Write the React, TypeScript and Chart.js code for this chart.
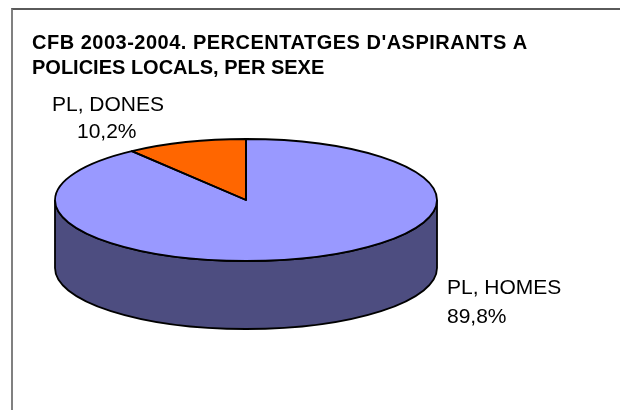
import React, { useEffect, useRef } from "react";
import { Chart, registerables } from "chart.js";

Chart.register(...registerables);

const categories = ["PL, HOMES", "PL, DONES"];
const percentages = [89.8, 10.2];
const titleLines = ["CFB 2003-2004. PERCENTATGES D'ASPIRANTS A", "POLICIES LOCALS, PER SEXE"];

const topColors = ["#9999FF", "#FF6600"];
const sideColors = ["#4D4D80", "#803300"];
const RY = 61; // vertical semi-axis of the top ellipse
const DEPTH = 68; // thickness of the 3D pie

const fmt = (v: number) => v.toFixed(1).replace(".", ",") + "%";

const pie3d = {
  id: "pie3d",
  beforeDatasetsDraw(chart: any) {
    const meta = chart.getDatasetMeta(0);
    const ctx = chart.ctx as CanvasRenderingContext2D;
    const a0 = meta.data[0];
    const cx = a0.x, cy = a0.y, r = a0.outerRadius;
    const k = RY / r;
    ctx.save();
    ctx.lineWidth = 1.8;
    ctx.strokeStyle = "#000";
    meta.data.forEach((arc: any, i: number) => {
      const s = arc.startAngle, e = arc.endAngle;
      for (const off of [-2 * Math.PI, 0, 2 * Math.PI]) {
        const a = Math.max(s, off), b = Math.min(e, off + Math.PI);
        if (b <= a) continue;
        ctx.beginPath();
        ctx.ellipse(cx, cy, r, RY, 0, a, b, false);
        ctx.lineTo(cx + r * Math.cos(b), cy + RY * Math.sin(b) + DEPTH);
        ctx.ellipse(cx, cy + DEPTH, r, RY, 0, b, a, true);
        ctx.closePath();
        ctx.fillStyle = sideColors[i];
        ctx.fill();
        ctx.stroke();
      }
    });
    ctx.restore();
    ctx.save();
    ctx.translate(cx, cy);
    ctx.scale(1, k);
    ctx.translate(-cx, -cy);
  },
  afterDatasetsDraw(chart: any) {
    const ctx = chart.ctx as CanvasRenderingContext2D;
    ctx.restore();
    const meta = chart.getDatasetMeta(0);
    ctx.save();
    ctx.lineWidth = 1.8;
    ctx.strokeStyle = "#000";
    ctx.lineJoin = "round";
    meta.data.forEach((arc: any) => {
      ctx.beginPath();
      ctx.moveTo(arc.x, arc.y);
      ctx.ellipse(arc.x, arc.y, arc.outerRadius, RY, 0, arc.startAngle, arc.endAngle, false);
      ctx.closePath();
      ctx.stroke();
    });
    ctx.restore();
  },
  afterDraw(chart: any) {
    const ctx = chart.ctx as CanvasRenderingContext2D;
    const labels = chart.data.labels as string[];
    const values = chart.data.datasets[0].data as number[];
    ctx.save();
    ctx.fillStyle = "#000";
    ctx.textAlign = "left";
    ctx.textBaseline = "alphabetic";
    ctx.font = "bold 20px 'Liberation Sans', Arial, sans-serif";
    (ctx as any).letterSpacing = "0.5px";
    ctx.fillText(titleLines[0], 32, 49);
    (ctx as any).letterSpacing = "0px";
    ctx.fillText(titleLines[1], 32, 74);
    ctx.font = "21px 'Liberation Sans', Arial, sans-serif";
    // DONES label (upper left)
    ctx.fillText(labels[1], 52, 111);
    ctx.fillText(fmt(values[1]), 77, 138);
    // HOMES label (lower right)
    ctx.fillText(labels[0], 447, 294);
    ctx.fillText(fmt(values[0]), 447, 323);
    ctx.restore();
  },
};

export default function App() {
  const ref = useRef<HTMLCanvasElement>(null);
  useEffect(() => {
    if (!ref.current) return;
    const chart = new Chart(ref.current, {
      type: "pie",
      data: {
        labels: categories,
        datasets: [
          {
            data: percentages,
            backgroundColor: topColors,
            borderWidth: 0,
          },
        ],
      },
      options: {
        responsive: false,
        animation: false,
        devicePixelRatio: 1,
        layout: { padding: { left: 55, right: 183, top: 9, bottom: 19 } },
        plugins: {
          legend: { display: false },
          tooltip: { enabled: false },
          title: { display: false },
        },
      },
      plugins: [pie3d],
    });
    return () => chart.destroy();
  }, []);
  return (
    <div style={{ position: "absolute", left: 0, top: 0, width: 620, height: 410, background: "#fff", overflow: "hidden" }}>
      <div
        style={{
          position: "absolute",
          left: 11,
          top: 8,
          width: 700,
          height: 500,
          borderTop: "2px solid #5a5a5a",
          borderLeft: "2px solid #808080",
        }}
      />
      <canvas ref={ref} width={620} height={410} style={{ position: "absolute", left: 0, top: 0 }} />
    </div>
  );
}
